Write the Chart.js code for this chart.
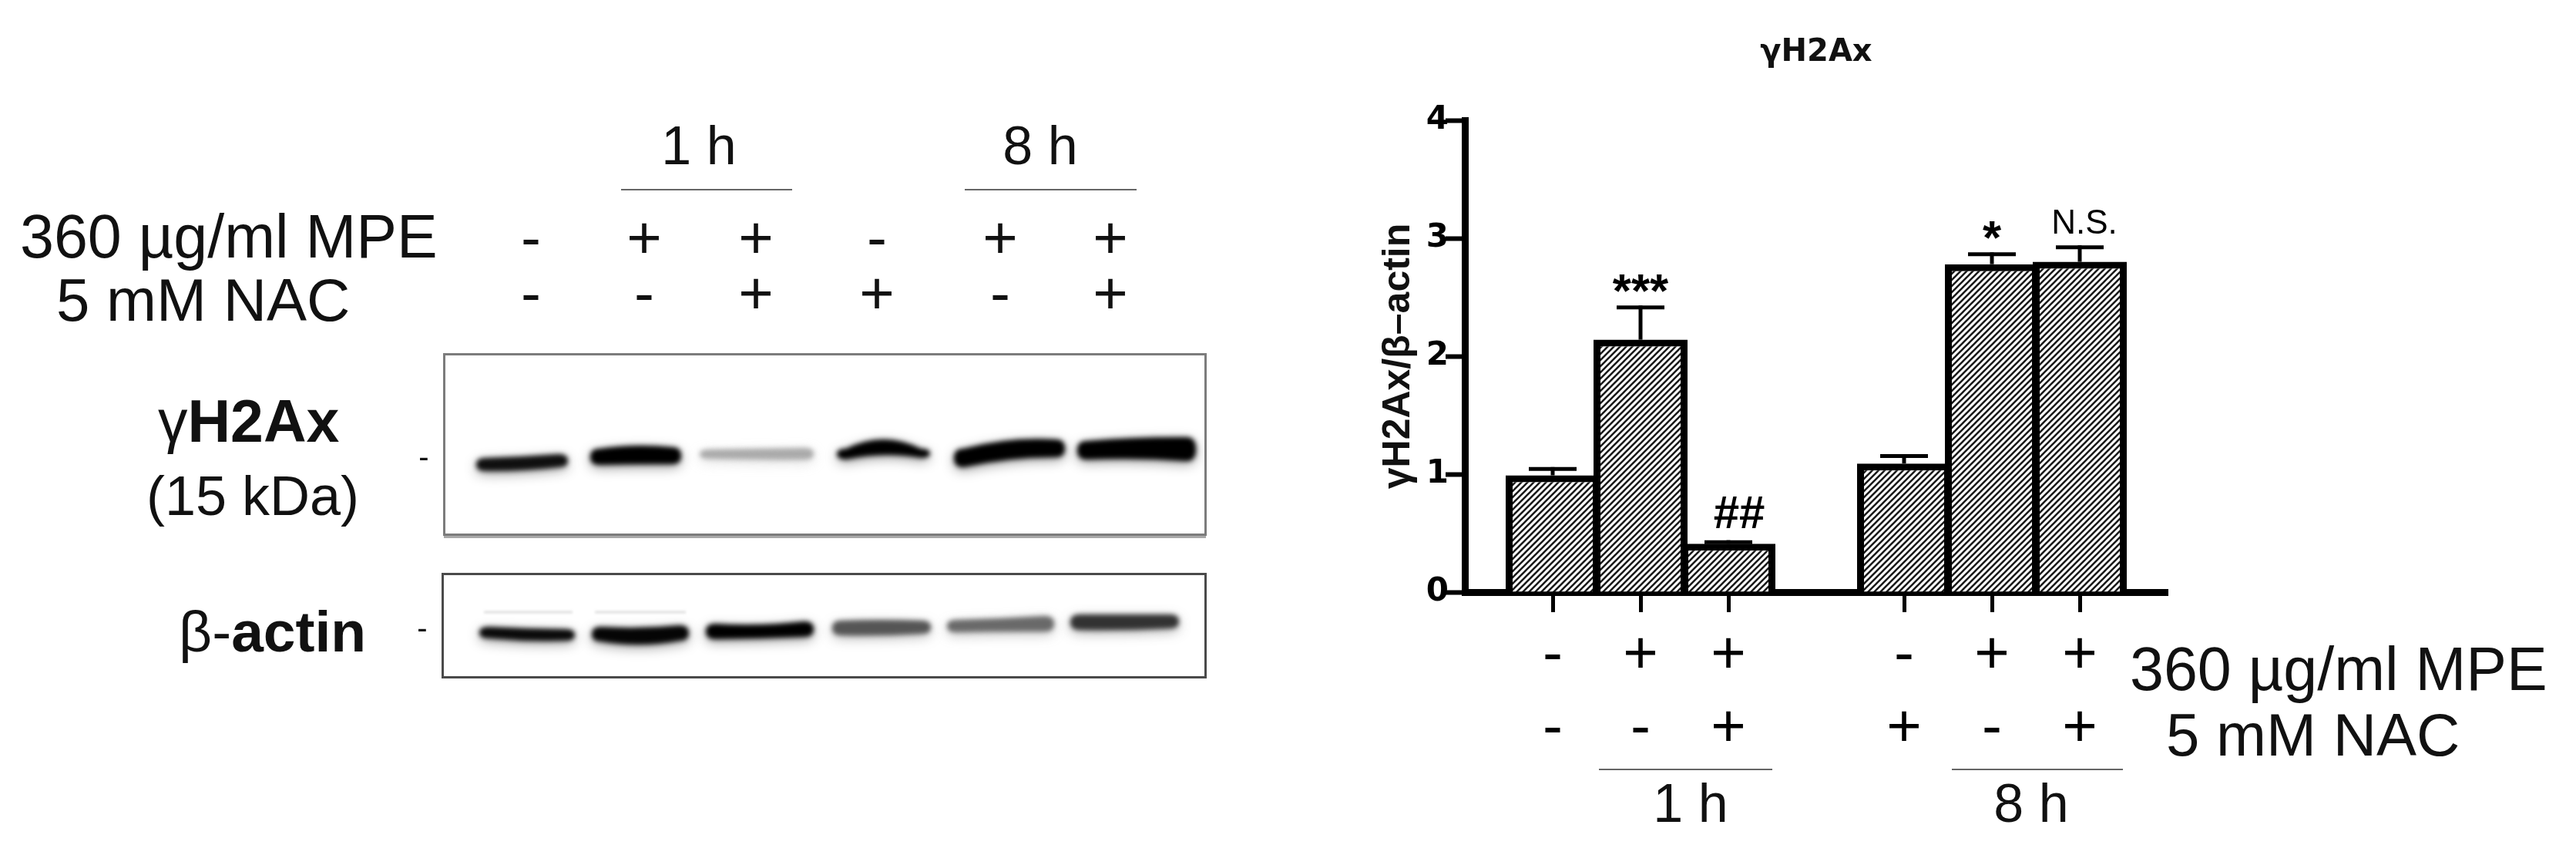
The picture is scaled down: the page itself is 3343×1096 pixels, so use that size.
<!DOCTYPE html>
<html><head><meta charset="utf-8">
<script src="https://cdn.jsdelivr.net/npm/chart.js@4/dist/chart.umd.min.js"></script>
<style>
html,body{margin:0;padding:0;background:#fff;overflow:hidden}
#wrap{position:relative;width:3343px;height:1096px;filter:blur(0.6px)}
canvas{position:absolute;left:0;top:0}
.t{position:absolute;white-space:nowrap;font-family:"Liberation Sans",Arial,sans-serif;line-height:1;color:#111}
.r{position:absolute;background:#666;height:2px}
</style></head>
<body><div id="wrap"><canvas id="c" width="3343" height="1096"></canvas></div>
<script>
// ---- data ----
const categories = ['', 'c1', 'c2', 'c3', '', 'c4', 'c5', 'c6', ''];
const meanValues = [null, 0.99, 2.14, 0.41, null, 1.09, 2.78, 2.80, null];
const errorTops  = [null, 1.06, 2.43, 0.44, null, 1.17, 2.88, 2.94, null];
const sigLabels  = ['', '', '***', '##', '', '', '*', 'N.S.', ''];
const mpeRow = ['', '-', '+', '+', '', '-', '+', '+', ''];
const nacRow = ['', '-', '-', '+', '', '+', '-', '+', ''];
const chartTitle = '\u03b3H2Ax';
const yTitle = '\u03b3H2Ax/\u03b2\u2013actin';
const mpeLabel = '360 \u00b5g/ml MPE';
const nacLabel = '5 mM NAC';
const timeLabels = ['1 h', '8 h'];
const blotMpeRow = ['-', '+', '+', '-', '+', '+'];
const blotNacRow = ['-', '-', '+', '+', '-', '+'];
// western-blot picture: x0,x1, top L/M/R, bottom L/M/R, shade
const h2axBands = [
 [618,737, 594,592,589, 611,610,606, 15],
 [766,884, 582,578,580, 603,602,602, 0],
 [908,1056, 583,582,581, 595,596,596, 170],
 [1086,1207, 582,570,582, 596,590,594, 0],
 [1238,1382, 582,571,570, 606,596,593, 0],
 [1398,1552, 572,568,567, 596,595,598, 0]
];
const actinBands = [
 [622,746, 813,815,816, 828,831,831, 10],
 [768,894, 813,814,811, 832,836,831, 5],
 [916,1056, 809,810,806, 829,828,826, 0],
 [1080,1208, 805,804,805, 824,824,822, 85],
 [1229,1368, 804,802,799, 820,819,819, 105],
 [1389,1530, 797,797,797, 817,817,815, 50]
];

// ---- hatch ----
function hatch(){
  const p=document.createElement('canvas');p.width=8;p.height=8;
  const x=p.getContext('2d');x.fillStyle='#fff';x.fillRect(0,0,8,8);
  x.strokeStyle='#1a1a1a';x.lineWidth=2.6;
  [[-4,4,4,-4],[0,8,8,0],[4,12,12,4]].forEach(s=>{x.beginPath();x.moveTo(s[0],s[1]);x.lineTo(s[2],s[3]);x.stroke();});
  return document.getElementById('c').getContext('2d').createPattern(p,'repeat');
}

// ---- HTML text ----
const wrap=document.getElementById('wrap');
function txt(html,x,base,size,anchor,weight){
  const d=document.createElement('div');d.className='t';d.innerHTML=html;
  d.style.fontSize=size+'px';d.style.top=(base-0.8465*size)+'px';
  if(weight)d.style.fontWeight=weight;
  if(anchor==='c'){d.style.left=x+'px';d.style.transform='translateX(-50%)';}
  else d.style.left=x+'px';
  wrap.appendChild(d);
}
function rule(x0,x1,y){const d=document.createElement('div');d.className='r';d.style.left=x0+'px';d.style.width=(x1-x0)+'px';d.style.top=y+'px';wrap.appendChild(d);}
// left panel labels
txt(mpeLabel,26,334,79);
txt(nacLabel,73,416,78);
txt(timeLabels[0],907,213,70,'c');
txt(timeLabels[1],1350,213,70,'c');
rule(806,1028,245);rule(1252,1475,245);
const blotX=[689,836,981,1138,1298,1441];
blotMpeRow.forEach((s,i)=>txt(s,blotX[i],335,78,'c'));
blotNacRow.forEach((s,i)=>txt(s,blotX[i],407,78,'c'));
txt('<span>\u03b3</span><b>H2Ax</b>',205,573,77);
txt('(15 kDa)',190,668,72);
txt('<span>\u03b2-</span><b>actin</b>',232,845,75);
txt('-',550,606,40,'c');
txt('-',548,828,40,'c');
// right panel labels
txt(mpeLabel,2764,895,79);
txt(nacLabel,2811,980,78);
rule(2075,2300,997);rule(2533,2755,997);
txt(timeLabels[0],2194,1066,70,'c');
txt(timeLabels[1],2636,1066,70,'c');

// ---- plugins ----
function bandPath(c,b){
  const [x0,x1,tl,tm,tr,bl,bm,br]=b,mx=(x0+x1)/2;
  c.beginPath();c.moveTo(x0,(tl+bl)/2);
  c.quadraticCurveTo(x0,tl,x0+12,tl);
  c.quadraticCurveTo(mx,2*tm-(tl+tr)/2,x1-12,tr);
  c.quadraticCurveTo(x1,tr,x1,(tr+br)/2);
  c.quadraticCurveTo(x1,br,x1-12,br);
  c.quadraticCurveTo(mx,2*bm-(bl+br)/2,x0+12,bl);
  c.quadraticCurveTo(x0,bl,x0,(tl+bl)/2);c.closePath();
}
const blotPlugin={id:'blots',beforeDraw(chart){
  const c=chart.ctx;c.save();
  c.fillStyle='#fff';c.fillRect(0,0,3343,1096);
  [h2axBands,actinBands].forEach(bands=>{
    bands.forEach(b=>{
      const s=b[8];
      c.filter='blur(8px)';c.fillStyle=`rgba(${s},${s},${s},0.4)`;
      c.save();c.translate(0,4);bandPath(c,b);c.fill();c.restore();
      c.filter='blur(3px)';c.fillStyle=`rgb(${s},${s},${s})`;
      bandPath(c,b);c.fill();
    });
  });
  c.filter='blur(1.5px)';c.fillStyle='#e6e6e6';
  c.fillRect(628,792,115,4);c.fillRect(772,792,118,4);
  c.filter='none';
  c.lineWidth=3;c.strokeStyle='#7c7c7c';c.strokeRect(576.5,459.5,988,234);
  c.fillStyle='#a8a8a8';c.fillRect(576,695,989,3);
  c.strokeStyle='#4a4a4a';c.strokeRect(574.5,744.5,990,134);
  c.restore();
}};
const errPlugin={id:'errs',afterDatasetsDraw(chart){
  const c=chart.ctx,xs=chart.scales.x,ys=chart.scales.y;c.save();c.strokeStyle='#000';c.fillStyle='#000';
  errorTops.forEach((e,i)=>{
    if(e==null)return;
    const x=xs.getPixelForValue(i),yT=ys.getPixelForValue(e),yB=ys.getPixelForValue(meanValues[i]);
    c.lineWidth=5;c.beginPath();c.moveTo(x,yB);c.lineTo(x,yT);c.stroke();
    c.beginPath();c.moveTo(x-31,yT+2.5);c.lineTo(x+31,yT+2.5);c.stroke();
    const s=sigLabels[i];if(!s)return;
    c.textAlign='center';c.textBaseline='alphabetic';
    if(s==='N.S.'){c.font='44px "Liberation Sans"';c.fillText(s,x+6,yT-15);}
    else if(s==='##'){c.font='bold 60px "Liberation Sans"';c.fillText(s,x+14,yT-16);}
    else{c.font='bold 62px "Liberation Sans"';c.fillText(s,x,yT+2);}
  });
  c.restore();
}};

// ---- chart ----
new Chart(document.getElementById('c'),{
  type:'bar',
  data:{labels:categories,datasets:[{data:meanValues,backgroundColor:hatch(),borderColor:'#000',borderWidth:9,borderSkipped:'start',barPercentage:1.07,categoryPercentage:1}]},
  plugins:[blotPlugin,errPlugin],
  options:{
    responsive:false,animation:false,
    layout:{padding:{left:1785,right:530,top:45,bottom:0}},
    plugins:{legend:{display:false},tooltip:{enabled:false},
      title:{display:true,text:chartTitle,fullSize:false,color:'#111',font:{family:'"DejaVu Sans"',weight:'bold',size:40},padding:{top:0,bottom:63}}},
    scales:{
      x:{type:'category',offset:false,
        afterFit(s){s.height=1096-768;},
        border:{color:'#000',width:9},
        grid:{offset:false,drawOnChartArea:false,tickLength:26,tickWidth:5,tickColor:c=>mpeRow[c.index]?'#000':'rgba(0,0,0,0)'},
        ticks:{autoSkip:false,maxRotation:0,minRotation:0,padding:10,color:'#000',
          font:{family:'"Liberation Sans"',size:78,lineHeight:1.218},
          callback(v,i){return mpeRow[i]?[mpeRow[i],nacRow[i]]:'';}}
      },
      y:{min:0,max:4,
        afterFit(s){s.width=1901-1785;},
        border:{color:'#000',width:9},
        title:{display:true,text:yTitle,color:'#111',font:{family:'"Liberation Sans"',weight:'bold',size:50},padding:0},
        grid:{drawOnChartArea:false,tickLength:25,tickWidth:6,tickColor:'#000'},
        ticks:{stepSize:1,padding:-4,color:'#000',font:{family:'"DejaVu Sans"',weight:'bold',size:42}}
      }
    }
  }
});
</script></body></html>
